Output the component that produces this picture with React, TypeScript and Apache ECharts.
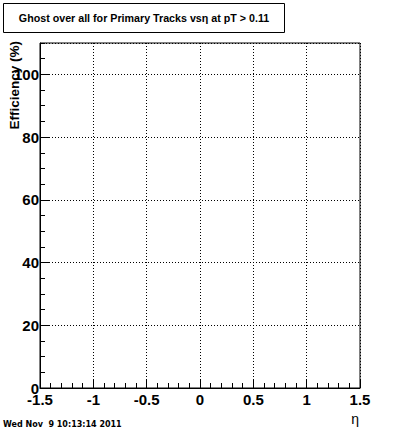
import React, { useEffect, useRef } from "react";
import * as echarts from "echarts";

const titleText = "Ghost over all for Primary Tracks vsη at pT > 0.11";
const xAxisTitle = "η";
const yAxisTitle = "Efficiency (%)";
const dateText = "Wed Nov  9 10:13:14 2011";
const xRange = [-1.5, 1.5];
const yRange = [0, 110];
const xMajor = 0.5;
const yMajor = 20;
const yMinor = 5;

const FONT = "'Liberation Sans', Arial, sans-serif";

export default function App() {
  const ref = useRef<HTMLDivElement>(null);
  useEffect(() => {
    if (!ref.current) return;
    const chart = echarts.init(ref.current, null, { renderer: "svg" });
    chart.setOption({
      animation: false,
      backgroundColor: "#ffffff",
      grid: {
        left: 40,
        right: 40,
        top: 43,
        bottom: 45,
        show: true,
        borderColor: "#000",
        borderWidth: 1,
        backgroundColor: "transparent",
      },
      xAxis: {
        type: "value",
        min: xRange[0],
        max: xRange[1],
        interval: xMajor,
        axisLine: { show: true, onZero: false, lineStyle: { color: "#000", width: 1 } },
        axisTick: { show: true, inside: true, length: 9, lineStyle: { color: "#000" } },
        minorTick: { show: true, splitNumber: 5, length: 5, lineStyle: { color: "#000" } },
        splitLine: { show: true, lineStyle: { color: "#000", type: [1, 2], width: 1 } },
        axisLabel: {
          color: "#000",
          fontFamily: FONT,
          fontWeight: "bold",
          fontSize: 15,
          margin: 4,
          formatter: (v: number) => String(Math.round(v * 10) / 10),
        },
      },
      yAxis: [
        {
          type: "value",
          min: yRange[0],
          max: yRange[1],
          interval: yMajor,
          axisLine: { show: true, onZero: false, lineStyle: { color: "#000", width: 1 } },
          axisTick: { show: true, inside: true, length: 9, lineStyle: { color: "#000" } },
          splitLine: { show: true, lineStyle: { color: "#000", type: [1, 2], width: 1 } },
          axisLabel: {
            color: "#000",
            fontFamily: FONT,
            fontWeight: "bold",
            fontSize: 15,
            margin: 1,
            showMaxLabel: false,
          },
        },
        {
          type: "value",
          position: "left",
          min: yRange[0],
          max: yRange[1],
          interval: yMinor,
          axisLine: { show: false, onZero: false },
          axisTick: { show: true, inside: true, length: 5, lineStyle: { color: "#000" } },
          splitLine: { show: false },
          axisLabel: { show: false },
        },
      ],
      series: [
        {
          type: "line",
          data: [],
        },
      ],
      graphic: [
        {
          type: "rect",
          shape: { x: 3.5, y: 3.5, width: 281, height: 29 },
          style: { fill: "#fff", stroke: "#000", lineWidth: 1 },
        },
        {
          type: "text",
          x: 144,
          y: 18,
          style: {
            text: titleText,
            font: `bold 10.7px ${FONT}`,
            fill: "#000",
            align: "center",
            verticalAlign: "middle",
          },
        },
        {
          type: "text",
          x: 14,
          y: 41,
          rotation: Math.PI / 2,
          style: {
            text: yAxisTitle,
            font: `bold 13.5px ${FONT}`,
            fill: "#000",
            align: "right",
            verticalAlign: "middle",
          },
        },
        {
          type: "text",
          x: 359,
          y: 419,
          style: {
            text: xAxisTitle,
            font: `14px ${FONT}`,
            fill: "#000",
            align: "right",
            verticalAlign: "middle",
          },
        },
        {
          type: "text",
          x: 3,
          y: 424,
          style: {
            text: dateText,
            font: `bold 8px 'DejaVu Sans', sans-serif`,
            fill: "#000",
            align: "left",
            verticalAlign: "middle",
          },
        },
      ],
    });
    return () => chart.dispose();
  }, []);
  return <div ref={ref} style={{ width: 400, height: 433, position: "absolute", left: 0, top: 0 }} />;
}
